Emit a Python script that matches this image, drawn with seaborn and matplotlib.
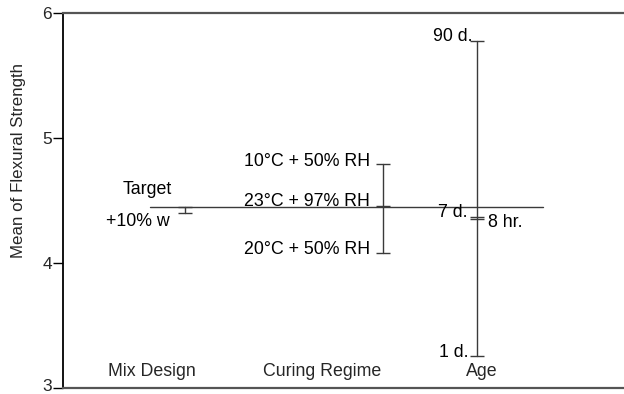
import numpy as np
import pandas as pd
import matplotlib
matplotlib.use("Agg")
import matplotlib.pyplot as plt
import matplotlib.transforms as mtransforms
import seaborn as sns

# ── Data ─────────────────────────────────────────────────────────────────────
mix_levels    = ["Target", "+10% w"]
mix_means     = [4.45, 4.40]
curing_levels = ["10°C + 50% RH", "23°C + 97% RH", "20°C + 50% RH"]
curing_means  = [4.79, 4.46, 4.08]
age_levels    = ["90 d.", "7 d.", "8 hr.", "1 d."]
age_means     = [5.78, 4.37, 4.35, 3.26]
factors       = ["Mix Design", "Curing Regime", "Age"]
grand_mean    = 4.445
y_ticks       = [3, 4, 5, 6]

# ── Layout (x in pixel-like data units from the left spine) ──────────────────
XMAX      = 561
FACTOR_X  = {"Mix Design": 122, "Curing Regime": 320, "Age": 414}
FNAME_X   = {"Mix Design": 89, "Curing Regime": 259, "Age": 419}
# label offsets in pixels (dx, dy, ha)
LABEL_OFF = {
    "Target":        (-38, 17, "center"),
    "+10% w":        (-15, -9, "right"),
    "10°C + 50% RH": (-13, 3, "right"),
    "23°C + 97% RH": (-13, 4, "right"),
    "20°C + 50% RH": (-13, 4, "right"),
    "90 d.":         (-4, 4, "right"),
    "7 d.":          (-9, 4, "right"),
    "8 hr.":         (11, -3, "left"),
    "1 d.":          (-8, 3, "right"),
}
FS = 12.8

rows = []
for fac, levels, means in [("Mix Design", mix_levels, mix_means),
                           ("Curing Regime", curing_levels, curing_means),
                           ("Age", age_levels, age_means)]:
    for lev, m in zip(levels, means):
        rows.append({"factor": fac, "level": lev, "mean": m,
                     "x": FACTOR_X[fac]})
df = pd.DataFrame(rows).sort_values(["factor", "mean"])

sns.set_style("white")
plt.rcParams["font.family"] = ["Liberation Sans", "DejaVu Sans"]

fig = plt.figure(figsize=(6.24, 3.94), dpi=100)
ax = fig.add_axes([63 / 624, 1 - 388 / 394, 1 - 63 / 624, (388 - 13) / 394])

LINE = "#3a3a3a"
sns.lineplot(data=df, x="x", y="mean", units="factor", estimator=None,
             sort=False, color=LINE, linewidth=1.0, ax=ax)
sns.scatterplot(data=df, x="x", y="mean", marker="_", s=110, color=LINE,
                linewidth=1.0, ax=ax, zorder=3)
ax.axhline(grand_mean, xmin=87 / XMAX, xmax=480 / XMAX, color=LINE,
           linewidth=1.0)

for _, r in df.iterrows():
    dx, dy, ha = LABEL_OFF[r["level"]]
    ax.annotate(r["level"], (r["x"], r["mean"]), xytext=(dx, dy),
                textcoords="offset pixels", ha=ha, va="center",
                fontsize=FS, color="black")

for fac in factors:
    ax.text(FNAME_X[fac], 3.13, fac, ha="center", va="center", fontsize=FS)

ax.set_xlim(0, XMAX)
ax.set_ylim(3, 6)
ax.set_yticks(y_ticks)
ax.set_xticks([])
ax.set_xlabel("")
ax.set_ylabel("Mean of Flexural Strength", fontsize=12.2)
ax.yaxis.set_label_coords(-0.066, 0.608)
ax.tick_params(axis="y", direction="out", length=7, width=1, pad=1,
               labelsize=12.5, left=True, color="black")
# nudge the bottom tick label up a little so it stays inside the canvas
shift = mtransforms.ScaledTranslation(0, 3 / 100, fig.dpi_scale_trans)
for lbl in ax.get_yticklabels():
    if lbl.get_text() == "3":
        lbl.set_transform(lbl.get_transform() + shift)

ax.spines["right"].set_visible(False)
ax.spines["left"].set_color("black")
ax.spines["left"].set_linewidth(1.3)
for s in ["top", "bottom"]:
    ax.spines[s].set_color("#555555")
    ax.spines[s].set_linewidth(1.6)

fig.savefig("out.png", dpi=100)
